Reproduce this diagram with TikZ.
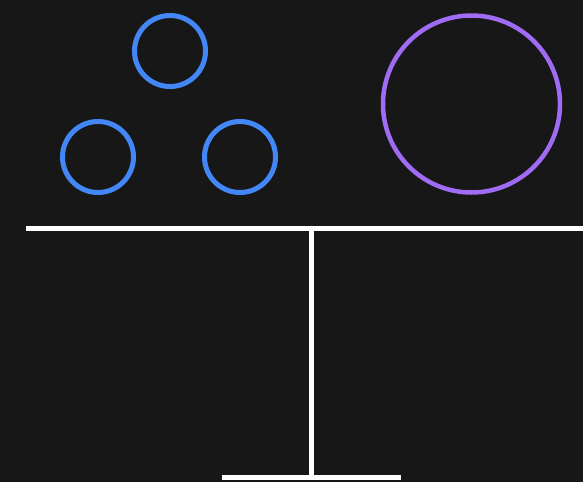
\documentclass[tikz,border=0pt]{standalone}
\usepackage{xcolor}
\usetikzlibrary{positioning, calc}
\definecolor{bgdark}{HTML}{171717}
\definecolor{ballblue}{HTML}{4287F5}
\definecolor{ballpurple}{HTML}{A06CF5}

\begin{document}
\begin{tikzpicture}[
  x=1pt, y=-1pt,
  ball/.style={circle, draw, inner sep=0pt, line width=5pt},
  small/.style={ball, draw=ballblue, minimum size=71pt},
  big/.style={ball, draw=ballpurple, line width=4.5pt, minimum size=177pt},
  beam/.style={draw=white, line width=5pt},
]
% background
\fill[bgdark] (0,0) rectangle (583,482);
\useasboundingbox (0,0) rectangle (583,482);

% small balls (left pan)
\node[small] (top) at (170,51) {};
\node[small] (left) at (98,157) {};
\node[small] (right) at (240,157) {};
% big ball (right pan)
\node[big] (heavy) at (471.5,104) {};

% balance
\coordinate (beamL) at (26,228.5);
\coordinate (beamR) at (583,228.5);
\coordinate (pivot) at (311.5,228.5);
\coordinate (foot) at (311.5,477);
\coordinate (baseL) at (222,477);
\coordinate (baseR) at (401,477);

\draw[beam] (beamL) -- (beamR);
\draw[beam] (pivot) -- (foot);
\draw[beam] (baseL) -- (baseR);
\end{tikzpicture}
\end{document}
